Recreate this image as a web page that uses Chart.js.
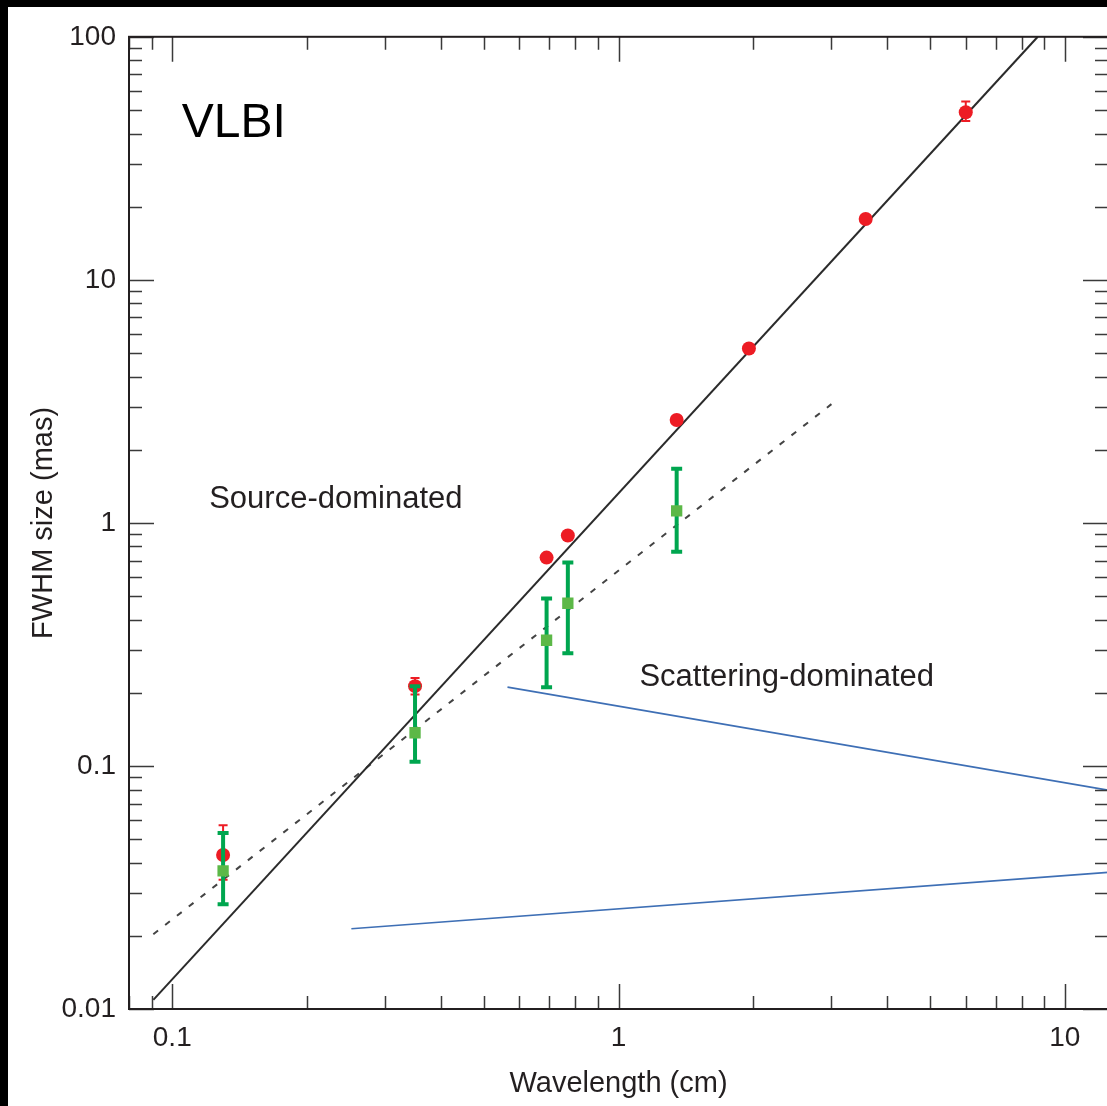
<!DOCTYPE html>
<html>
<head>
<meta charset="utf-8">
<script src="https://cdn.jsdelivr.net/npm/chart.js@4.4.0/dist/chart.umd.min.js"></script>
<style>
  html, body { margin: 0; padding: 0; background: #000; overflow: hidden; }
  #wrap { position: absolute; left: 8px; top: 7px; }
  #myChart { background: #fff; display: block; }
</style>
</head>
<body>
<div id="wrap"><canvas id="myChart" width="1108" height="1099"></canvas></div>
<script>
// source-dominated sizes (red circles)
const redX = [0.13, 0.35, 0.69, 0.77, 1.35, 1.96, 3.58, 6.0]
const redY = [0.043, 0.213, 0.72, 0.887, 2.65, 5.22, 17.8, 48.9]
const redLo = [0.034, 0.197, null, null, null, null, null, 45]
const redHi = [0.057, 0.23, null, null, null, null, null, 54.2]

// intrinsic sizes (green squares)
const greenX = [0.13, 0.35, 0.69, 0.77, 1.35]
const greenY = [0.037, 0.137, 0.329, 0.467, 1.12]
const greenLo = [0.027, 0.104, 0.211, 0.291, 0.76]
const greenHi = [0.053, 0.213, 0.489, 0.687, 1.67]

// lines
const fitX = [0.0907, 8.7]
const fitY = [0.0109, 100]
const dashX = [0.0907, 3.0]
const dashY = [0.0203, 3.08]
const blue1X = [0.564, 12.5]
const blue1Y = [0.211, 0.0795]
const blue2X = [0.252, 12.5]
const blue2Y = [0.0214, 0.0365]

const xTickLabels = [0.1, 1, 10]
const yTickLabels = [0.01, 0.1, 1, 10, 100]

const notes = [
    { text: 'VLBI', x: 0.105, y: 44, size: 48, color: '#000' },
    { text: 'Source-dominated', x: 0.121, y: 1.25, size: 31, color: '#231f20' },
    { text: 'Scattering-dominated', x: 1.114, y: 0.232, size: 31, color: '#231f20' }
]

const FONT = "'Liberation Sans', Arial, Helvetica, sans-serif"
const toPts = (xs, ys) => xs.map((x, i) => ({ x: x, y: ys[i] }))

const minorValues = (min, max) => {
    const out = []
    for (let e = Math.floor(Math.log10(min)) - 1; e <= Math.ceil(Math.log10(max)); e++) {
        for (let m = 1; m <= 9; m++) {
            const v = +(m * Math.pow(10, e)).toPrecision(6)
            if (v >= min * 0.9999 && v <= max * 1.0001) out.push({ v: v, major: m === 1 })
        }
    }
    return out
}

const drawBars = (chart, xs, ys, lo, hi, color, width, cap) => {
    const ctx = chart.ctx
    const xs_ = chart.scales.x, ys_ = chart.scales.y
    ctx.save()
    ctx.strokeStyle = color
    ctx.lineWidth = width
    xs.forEach((x, i) => {
        if (lo[i] == null) return
        const px = xs_.getPixelForValue(x)
        const p1 = ys_.getPixelForValue(lo[i])
        const p2 = ys_.getPixelForValue(hi[i])
        ctx.beginPath()
        ctx.moveTo(px, p1); ctx.lineTo(px, p2)
        ctx.moveTo(px - cap, p1); ctx.lineTo(px + cap, p1)
        ctx.moveTo(px - cap, p2); ctx.lineTo(px + cap, p2)
        ctx.stroke()
    })
    ctx.restore()
}

const extras = {
    id: 'extras',
    beforeDatasetDraw(chart, args) {
        if (args.index === 1) drawBars(chart, redX, redY, redLo, redHi, '#ed1c24', 2, 4.5)
        if (args.index === 0) drawBars(chart, greenX, greenY, greenLo, greenHi, '#00a64f', 4, 5.5)
    },
    afterDraw(chart) {
        const ctx = chart.ctx
        const a = chart.chartArea
        const sx = chart.scales.x, sy = chart.scales.y
        ctx.save()
        // inner ticks on all four sides
        ctx.strokeStyle = '#3a3a3a'
        ctx.lineWidth = 1.5
        ctx.beginPath()
        minorValues(sx.min, sx.max).forEach(t => {
            const px = Math.round(sx.getPixelForValue(t.v)) + 0.5
            const len = t.major ? 25 : 13
            ctx.moveTo(px, a.bottom); ctx.lineTo(px, a.bottom - len)
            ctx.moveTo(px, a.top); ctx.lineTo(px, a.top + len)
        })
        minorValues(sy.min, sy.max).forEach(t => {
            const py = Math.round(sy.getPixelForValue(t.v)) + 0.5
            const len = t.major ? 25 : 13
            ctx.moveTo(a.left, py); ctx.lineTo(a.left + len, py)
            ctx.moveTo(a.right, py); ctx.lineTo(a.right - len, py)
        })
        ctx.stroke()
        // frame
        ctx.strokeStyle = '#231f20'
        ctx.lineWidth = 2
        ctx.strokeRect(a.left, a.top, a.right - a.left, a.bottom - a.top)
        // text notes
        notes.forEach(n => {
            ctx.font = n.size + 'px ' + FONT
            ctx.fillStyle = n.color
            ctx.textAlign = 'left'
            ctx.textBaseline = 'middle'
            ctx.fillText(n.text, sx.getPixelForValue(n.x), sy.getPixelForValue(n.y))
        })
        ctx.restore()
    }
}

const ctx = document.getElementById('myChart')
const myChart = new Chart(ctx, {
    type: 'scatter',
    data: {
        datasets: [
            {
                label: 'intrinsic',
                data: toPts(greenX, greenY),
                pointStyle: 'rect',
                pointRadius: 8,
                backgroundColor: '#5cb847',
                borderWidth: 0
            },
            {
                label: 'measured',
                data: toPts(redX, redY),
                pointStyle: 'circle',
                pointRadius: 7,
                backgroundColor: '#ed1c24',
                borderWidth: 0
            },
            {
                label: 'fit',
                data: toPts(fitX, fitY),
                showLine: true,
                pointRadius: 0,
                borderColor: '#2b2b2b',
                borderWidth: 2
            },
            {
                label: 'scattering',
                data: toPts(dashX, dashY),
                showLine: true,
                pointRadius: 0,
                borderColor: '#444',
                borderWidth: 2,
                borderDash: [6, 9]
            },
            {
                label: 'b1',
                data: toPts(blue1X, blue1Y),
                showLine: true,
                pointRadius: 0,
                borderColor: '#3e6fb5',
                borderWidth: 1.6
            },
            {
                label: 'b2',
                data: toPts(blue2X, blue2Y),
                showLine: true,
                pointRadius: 0,
                borderColor: '#3e6fb5',
                borderWidth: 1.6
            }
        ]
    },
    options: {
        responsive: false,
        animation: false,
        devicePixelRatio: 1,
        layout: { padding: { top: 25, right: 0, left: 0, bottom: 0 } },
        plugins: {
            legend: { display: false },
            tooltip: { enabled: false }
        },
        scales: {
            x: {
                type: 'logarithmic',
                min: 0.08,
                max: 12.5,
                grid: { display: false, drawTicks: false },
                border: { display: false },
                afterBuildTicks: (scale) => { scale.ticks = xTickLabels.map(v => ({ value: v })) },
                afterFit: (scale) => { scale.height = 97 },
                ticks: {
                    autoSkip: false,
                    maxRotation: 0,
                    padding: 12,
                    color: '#231f20',
                    font: { family: FONT, size: 28 },
                    callback: (v) => String(v)
                },
                title: {
                    display: true,
                    text: 'Wavelength (cm)',
                    color: '#231f20',
                    font: { family: FONT, size: 29 },
                    padding: { top: 0, bottom: 5 }
                }
            },
            y: {
                type: 'logarithmic',
                min: 0.01,
                max: 100,
                grid: { display: false, drawTicks: false },
                border: { display: false },
                afterBuildTicks: (scale) => { scale.ticks = yTickLabels.map(v => ({ value: v })) },
                afterFit: (scale) => { scale.width = 121 },
                ticks: {
                    autoSkip: false,
                    padding: 13,
                    color: '#231f20',
                    font: { family: FONT, size: 28 },
                    callback: (v) => String(v)
                },
                title: {
                    display: true,
                    text: 'FWHM size (mas)',
                    color: '#231f20',
                    font: { family: FONT, size: 29 },
                    padding: { top: 19, bottom: 0 }
                }
            }
        }
    },
    plugins: [extras]
})
</script>
</body>
</html>
